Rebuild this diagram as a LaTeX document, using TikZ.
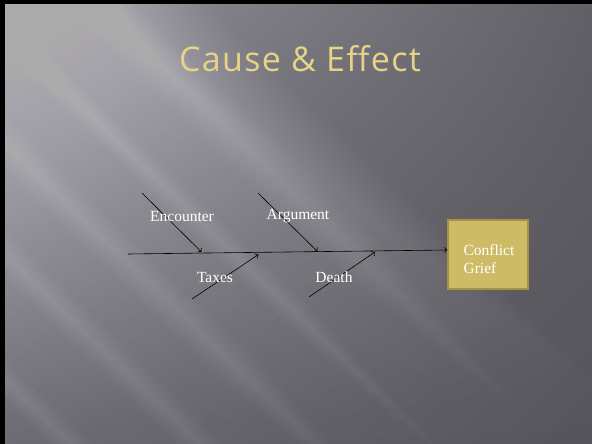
\documentclass[tikz,border=0pt]{standalone}
\usepackage{fontspec}
\setmainfont{Liberation Serif}
\newfontfamily\titlefont[LetterSpace=4]{Open Sans}
\usepackage{tikz}
\usetikzlibrary{arrows.meta, positioning, calc, shadings}

\definecolor{bgul}{RGB}{150,148,156}
\definecolor{bgur}{RGB}{98,96,103}
\definecolor{bgll}{RGB}{86,84,91}
\definecolor{bglr}{RGB}{86,84,91}
\definecolor{effectgold}{RGB}{206,187,102}
\definecolor{effectedge}{RGB}{165,146,72}
\definecolor{titlegold}{RGB}{231,211,134}

\tikzset{
  bone/.style={->, black, line width=0.6pt},
  causetext/.style={text=white, font=\fontsize{15.5}{18}\selectfont, inner sep=0pt},
  effectbox/.style={draw=effectedge, line width=1.2pt, fill=effectgold, minimum width=80pt,
    minimum height=69pt},
  effecttext/.style={text=white, align=left, inner sep=0pt, font=\fontsize{15.5}{18}\selectfont},
  titletext/.style={text=titlegold, font=\titlefont\fontsize{34}{36}\selectfont, inner sep=0pt}
}

\begin{document}
\begin{tikzpicture}[x=1pt, y=-1pt, >={To[length=3pt, width=6pt]}]
    \useasboundingbox (0,0) rectangle (592,444);

    % Fondo con degradado
    \shade[upper left=bgul, upper right=bgur, lower left=bgll, lower right=bglr]
        (0,0) rectangle (592,444);

    % Zona clara y rayas en diagonal
    \begin{scope}
        \clip (0,0) rectangle (592,444);
        \begin{scope}[rotate=-44]
            \foreach \k in {0,...,31}{
                \fill[white, opacity=0.011] (-400,{-141+2.5*\k}) rectangle ({700-17.5*\k},800);
            }
            \foreach \s/\w in {-65/25, 20/15, 100/20, 180/18, 270/15, 350/15}{
                \foreach \k in {1,...,12}{
                    \fill[white, opacity=0.012] (-400,{\s-\w*\k/12}) rectangle ({680-20*\k},{\s+\w*\k/12});
                }
            }
        \end{scope}
    \end{scope}

    % Borde negro
    \fill[black] (0,0) rectangle (5,444);
    \fill[black] (0,0) rectangle (592,4);

    % Titulo
    \node[titletext] (title) at (300,59) {Cause \& Effect};

    % Efecto
    \node[effectbox] (effect) at (488,254.5) {};
    \node[effecttext] (effectlbl) at (489,259.5) {Conflict\\Grief};

    % Espina principal
    \coordinate (tail) at (128,254);
    \coordinate (head) at ($(effect.west)+(0,-4.5)$);
    \draw[bone] (tail) -- (head);

    % Puntos sobre la espina
    \coordinate (jEnc) at (201.5,252);
    \coordinate (jArg) at (317.5,251.5);
    \coordinate (jTax) at (258.5,254.5);
    \coordinate (jDea) at (375,252);

    % Causas de arriba
    \coordinate (sEnc) at (142,193);
    \coordinate (sArg) at (258,193);
    \draw[bone] (sEnc) -- (jEnc);
    \draw[bone] (sArg) -- (jArg);

    % Causas de abajo
    \coordinate (sTax) at (192,299);
    \coordinate (sDea) at (309,297);
    \draw[bone] (sTax) -- (jTax);
    \draw[bone] (sDea) -- (jDea);

    % Etiquetas
    \node[causetext] (encounter) at (182,216) {Encounter};
    \node[causetext] (argument) at (298,216) {Argument};
    \node[causetext] (taxes) at (215,277) {Taxes};
    \node[causetext] (death) at (334,277) {Death};

\end{tikzpicture}
\end{document}
